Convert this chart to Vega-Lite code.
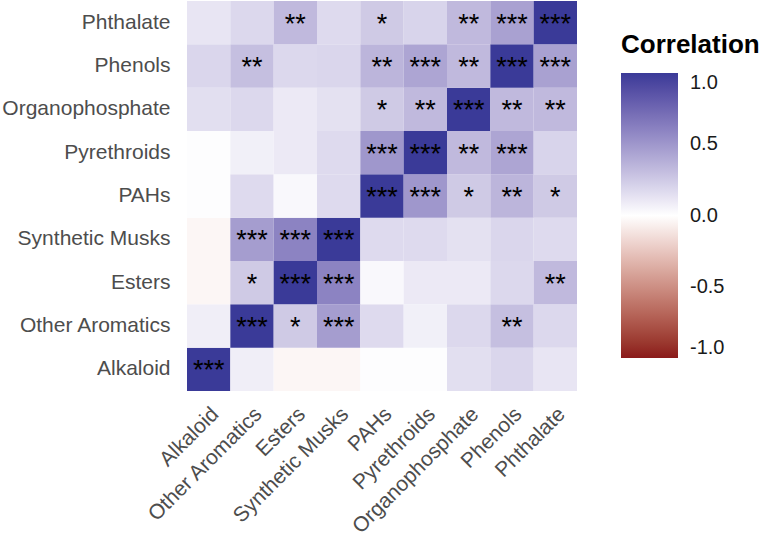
{
  "$schema": "https://vega.github.io/schema/vega-lite/v6.json",
  "autosize": "none",
  "width": 390,
  "height": 390,
  "padding": {"left": 187, "top": 1, "right": 185, "bottom": 146},
  "background": "white",
  "config": {
    "view": {"stroke": null},
    "font": "Liberation Sans",
    "axis": {
      "ticks": false,
      "tickSize": 0,
      "domain": false,
      "grid": false,
      "title": null,
      "labelFont": "Liberation Sans",
      "labelFontSize": 21,
      "labelColor": "#4D4D4D"
    }
  },
  "data": {
    "values": [
      {"x": "Alkaloid", "y": "Alkaloid", "r": 1, "sig": "***"},
      {"x": "Other Aromatics", "y": "Alkaloid", "r": 0.08, "sig": ""},
      {"x": "Esters", "y": "Alkaloid", "r": -0.04, "sig": ""},
      {"x": "Synthetic Musks", "y": "Alkaloid", "r": -0.04, "sig": ""},
      {"x": "PAHs", "y": "Alkaloid", "r": 0.01, "sig": ""},
      {"x": "Pyrethroids", "y": "Alkaloid", "r": 0.01, "sig": ""},
      {"x": "Organophosphate", "y": "Alkaloid", "r": 0.15, "sig": ""},
      {"x": "Phenols", "y": "Alkaloid", "r": 0.19, "sig": ""},
      {"x": "Phthalate", "y": "Alkaloid", "r": 0.12, "sig": ""},

      {"x": "Alkaloid", "y": "Other Aromatics", "r": 0.08, "sig": ""},
      {"x": "Other Aromatics", "y": "Other Aromatics", "r": 1, "sig": "***"},
      {"x": "Esters", "y": "Other Aromatics", "r": 0.25, "sig": "*"},
      {"x": "Synthetic Musks", "y": "Other Aromatics", "r": 0.47, "sig": "***"},
      {"x": "PAHs", "y": "Other Aromatics", "r": 0.17, "sig": ""},
      {"x": "Pyrethroids", "y": "Other Aromatics", "r": 0.07, "sig": ""},
      {"x": "Organophosphate", "y": "Other Aromatics", "r": 0.18, "sig": ""},
      {"x": "Phenols", "y": "Other Aromatics", "r": 0.3, "sig": "**"},
      {"x": "Phthalate", "y": "Other Aromatics", "r": 0.18, "sig": ""},

      {"x": "Alkaloid", "y": "Esters", "r": -0.04, "sig": ""},
      {"x": "Other Aromatics", "y": "Esters", "r": 0.25, "sig": "*"},
      {"x": "Esters", "y": "Esters", "r": 1, "sig": "***"},
      {"x": "Synthetic Musks", "y": "Esters", "r": 0.6, "sig": "***"},
      {"x": "PAHs", "y": "Esters", "r": 0.03, "sig": ""},
      {"x": "Pyrethroids", "y": "Esters", "r": 0.1, "sig": ""},
      {"x": "Organophosphate", "y": "Esters", "r": 0.1, "sig": ""},
      {"x": "Phenols", "y": "Esters", "r": 0.18, "sig": ""},
      {"x": "Phthalate", "y": "Esters", "r": 0.33, "sig": "**"},

      {"x": "Alkaloid", "y": "Synthetic Musks", "r": -0.04, "sig": ""},
      {"x": "Other Aromatics", "y": "Synthetic Musks", "r": 0.47, "sig": "***"},
      {"x": "Esters", "y": "Synthetic Musks", "r": 0.6, "sig": "***"},
      {"x": "Synthetic Musks", "y": "Synthetic Musks", "r": 1, "sig": "***"},
      {"x": "PAHs", "y": "Synthetic Musks", "r": 0.17, "sig": ""},
      {"x": "Pyrethroids", "y": "Synthetic Musks", "r": 0.17, "sig": ""},
      {"x": "Organophosphate", "y": "Synthetic Musks", "r": 0.14, "sig": ""},
      {"x": "Phenols", "y": "Synthetic Musks", "r": 0.19, "sig": ""},
      {"x": "Phthalate", "y": "Synthetic Musks", "r": 0.17, "sig": ""},

      {"x": "Alkaloid", "y": "PAHs", "r": 0.01, "sig": ""},
      {"x": "Other Aromatics", "y": "PAHs", "r": 0.17, "sig": ""},
      {"x": "Esters", "y": "PAHs", "r": 0.03, "sig": ""},
      {"x": "Synthetic Musks", "y": "PAHs", "r": 0.17, "sig": ""},
      {"x": "PAHs", "y": "PAHs", "r": 1, "sig": "***"},
      {"x": "Pyrethroids", "y": "PAHs", "r": 0.5, "sig": "***"},
      {"x": "Organophosphate", "y": "PAHs", "r": 0.25, "sig": "*"},
      {"x": "Phenols", "y": "PAHs", "r": 0.35, "sig": "**"},
      {"x": "Phthalate", "y": "PAHs", "r": 0.25, "sig": "*"},

      {"x": "Alkaloid", "y": "Pyrethroids", "r": 0.01, "sig": ""},
      {"x": "Other Aromatics", "y": "Pyrethroids", "r": 0.07, "sig": ""},
      {"x": "Esters", "y": "Pyrethroids", "r": 0.1, "sig": ""},
      {"x": "Synthetic Musks", "y": "Pyrethroids", "r": 0.17, "sig": ""},
      {"x": "PAHs", "y": "Pyrethroids", "r": 0.5, "sig": "***"},
      {"x": "Pyrethroids", "y": "Pyrethroids", "r": 1, "sig": "***"},
      {"x": "Organophosphate", "y": "Pyrethroids", "r": 0.33, "sig": "**"},
      {"x": "Phenols", "y": "Pyrethroids", "r": 0.43, "sig": "***"},
      {"x": "Phthalate", "y": "Pyrethroids", "r": 0.2, "sig": ""},

      {"x": "Alkaloid", "y": "Organophosphate", "r": 0.15, "sig": ""},
      {"x": "Other Aromatics", "y": "Organophosphate", "r": 0.18, "sig": ""},
      {"x": "Esters", "y": "Organophosphate", "r": 0.1, "sig": ""},
      {"x": "Synthetic Musks", "y": "Organophosphate", "r": 0.14, "sig": ""},
      {"x": "PAHs", "y": "Organophosphate", "r": 0.25, "sig": "*"},
      {"x": "Pyrethroids", "y": "Organophosphate", "r": 0.33, "sig": "**"},
      {"x": "Organophosphate", "y": "Organophosphate", "r": 1, "sig": "***"},
      {"x": "Phenols", "y": "Organophosphate", "r": 0.33, "sig": "**"},
      {"x": "Phthalate", "y": "Organophosphate", "r": 0.33, "sig": "**"},

      {"x": "Alkaloid", "y": "Phenols", "r": 0.19, "sig": ""},
      {"x": "Other Aromatics", "y": "Phenols", "r": 0.3, "sig": "**"},
      {"x": "Esters", "y": "Phenols", "r": 0.18, "sig": ""},
      {"x": "Synthetic Musks", "y": "Phenols", "r": 0.19, "sig": ""},
      {"x": "PAHs", "y": "Phenols", "r": 0.35, "sig": "**"},
      {"x": "Pyrethroids", "y": "Phenols", "r": 0.43, "sig": "***"},
      {"x": "Organophosphate", "y": "Phenols", "r": 0.33, "sig": "**"},
      {"x": "Phenols", "y": "Phenols", "r": 1, "sig": "***"},
      {"x": "Phthalate", "y": "Phenols", "r": 0.45, "sig": "***"},

      {"x": "Alkaloid", "y": "Phthalate", "r": 0.12, "sig": ""},
      {"x": "Other Aromatics", "y": "Phthalate", "r": 0.18, "sig": ""},
      {"x": "Esters", "y": "Phthalate", "r": 0.33, "sig": "**"},
      {"x": "Synthetic Musks", "y": "Phthalate", "r": 0.17, "sig": ""},
      {"x": "PAHs", "y": "Phthalate", "r": 0.25, "sig": "*"},
      {"x": "Pyrethroids", "y": "Phthalate", "r": 0.2, "sig": ""},
      {"x": "Organophosphate", "y": "Phthalate", "r": 0.33, "sig": "**"},
      {"x": "Phenols", "y": "Phthalate", "r": 0.45, "sig": "***"},
      {"x": "Phthalate", "y": "Phthalate", "r": 1, "sig": "***"}
    ]
  },
  "encoding": {
    "x": {
      "field": "x",
      "type": "nominal",
      "sort": ["Alkaloid", "Other Aromatics", "Esters", "Synthetic Musks", "PAHs", "Pyrethroids", "Organophosphate", "Phenols", "Phthalate"],
      "scale": {"paddingInner": 0, "paddingOuter": 0},
      "axis": {"labelAngle": -45, "labelAlign": "right", "labelBaseline": "top", "labelPadding": 12, "labelOffset": -1}
    },
    "y": {
      "field": "y",
      "type": "nominal",
      "sort": ["Phthalate", "Phenols", "Organophosphate", "Pyrethroids", "PAHs", "Synthetic Musks", "Esters", "Other Aromatics", "Alkaloid"],
      "scale": {"paddingInner": 0, "paddingOuter": 0},
      "axis": {"labelPadding": 17}
    }
  },
  "layer": [
    {
      "mark": {"type": "rect", "strokeWidth": 0},
      "encoding": {
        "color": {
          "field": "r",
          "type": "quantitative",
          "title": "Correlation",
          "scale": {
            "domain": [-1, 0, 1],
            "range": ["#8B1A1A", "#FFFFFF", "#3A3A98"],
            "interpolate": "lab"
          },
          "legend": {
            "orient": "none",
            "legendX": 434,
            "legendY": 31,
            "direction": "vertical",
            "gradientLength": 285,
            "gradientThickness": 57,
            "gradientStrokeWidth": 0,
            "values": [-1, -0.5, 0, 0.5, 1],
            "labelExpr": "datum.value < 0 ? '-' + format(abs(datum.value), '.1f') : format(datum.value, '.1f')",
            "labelFont": "Liberation Sans",
            "labelFontSize": 20,
            "labelColor": "#1A1A1A",
            "labelOffset": 12,
            "labelFlush": false,
            "labelOverlap": false,
            "titleFont": "Liberation Sans",
            "titleFontSize": 26,
            "titleFontWeight": "bold",
            "titleColor": "#000000",
            "titlePadding": 15,
            "titleAnchor": "start"
          }
        }
      }
    },
    {
      "mark": {"type": "text", "fontSize": 27, "color": "#000000", "baseline": "middle", "align": "center", "dy": 2},
      "encoding": {
        "text": {"field": "sig", "type": "nominal"}
      }
    }
  ]
}
